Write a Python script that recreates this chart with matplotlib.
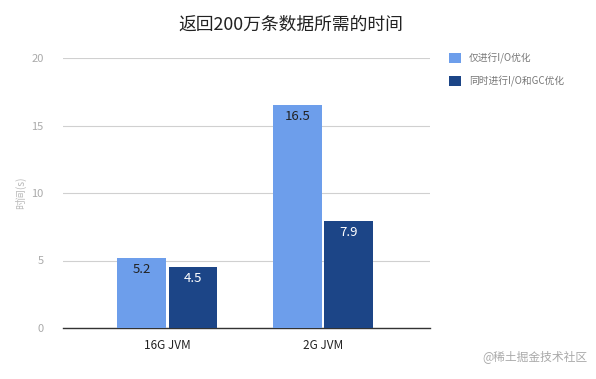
import matplotlib
matplotlib.use("Agg")
import matplotlib.pyplot as plt
import numpy as np

plt.rcParams['font.family'] = ['Noto Sans CJK SC', 'DejaVu Sans']

categories = ["16G JVM", "2G JVM"]
series_names = ["仅进行I/O优化", "同时进行I/O和GC优化"]
io_only = [5.2, 16.5]
io_gc = [4.5, 7.9]
colors = ["#6d9eeb", "#1c4587"]

fig = plt.figure(figsize=(5.96, 3.79), dpi=100)
fig.set_facecolor('white')
ax = fig.add_axes([63 / 596, 1 - 328 / 379, 367 / 596, 270 / 379])

x = np.arange(len(categories))
w = 0.314
b1 = ax.bar(x - w / 2 - 0.007, io_only, w, color=colors[0], label=series_names[0], zorder=3)
b2 = ax.bar(x + w / 2 + 0.007, io_gc, w, color=colors[1], label=series_names[1], zorder=3)

for bars, tc in [(b1, "#222222"), (b2, "white")]:
    for r in bars:
        ax.text(r.get_x() + r.get_width() / 2, r.get_height() - 0.35, f"{r.get_height():g}",
                ha='center', va='top', fontsize=9.5, color=tc, zorder=4)

ax.set_xlim(-0.67, 1.685)
ax.set_ylim(0, 20)
ax.set_yticks([0, 5, 10, 15, 20])
ax.set_xticks(x)
ax.set_xticklabels(categories, fontsize=8.5, color="#222222")
ax.tick_params(axis='y', colors="#aaaaaa", labelsize=8, length=0, pad=14)
ax.tick_params(axis='x', length=0, pad=8)
ax.grid(axis='y', color="#d0d0d0", linewidth=0.8, zorder=0)
for s in ['top', 'right', 'left']:
    ax.spines[s].set_visible(False)
ax.spines['bottom'].set_color("#333333")
ax.spines['bottom'].set_linewidth(1.0)
ax.set_ylabel("时间(s)", fontsize=7.5, color="#bbbbbb")
ax.yaxis.set_label_coords(-0.1, 0.5)

fig.text(0.488, 1 - 25 / 379, "返回200万条数据所需的时间", ha='center', va='center',
         fontsize=12.8, color="#222222")

fig.legend(loc='upper left', bbox_to_anchor=(440 / 596, 1 - 44 / 379), frameon=False, fontsize=7,
           labelcolor="#777777", handlelength=1.25, handleheight=1.25, labelspacing=1.25,
           handletextpad=0.8)

fig.text(0.985, 1 - 357 / 379, "@稀土掘金技术社区", ha='right', va='center',
         fontsize=8.5, color="#aaaaaa")

fig.savefig("out.png", dpi=100)
